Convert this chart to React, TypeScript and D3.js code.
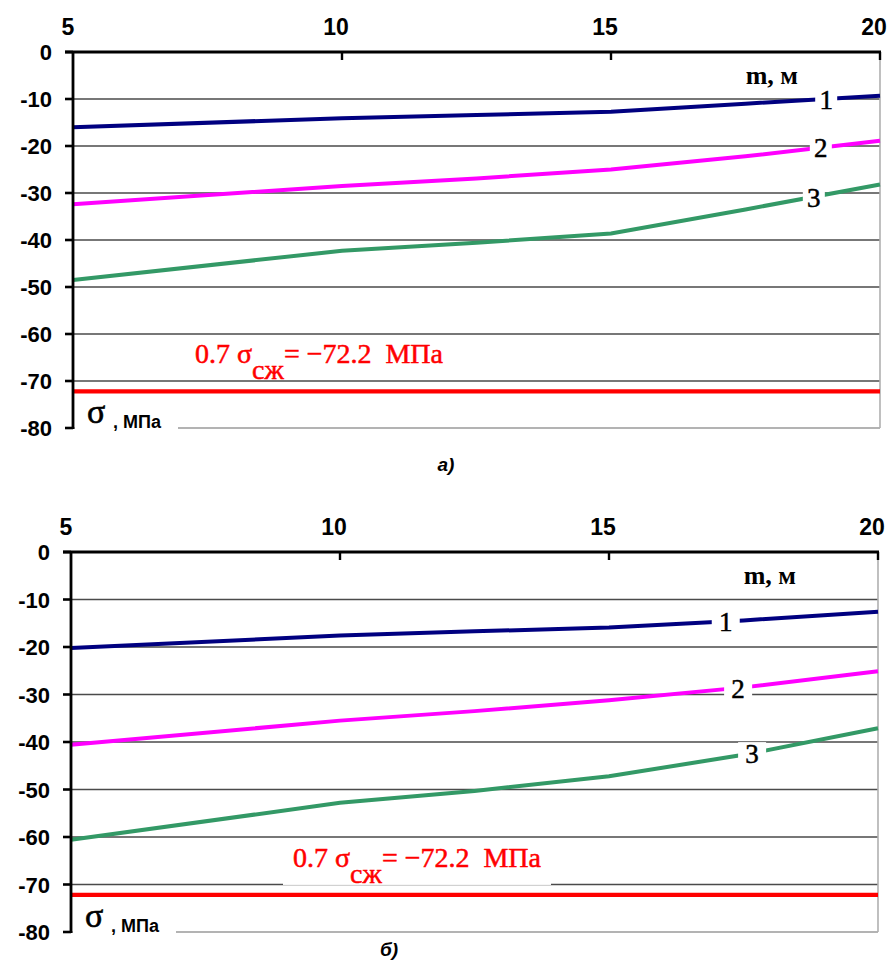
import React from "react";
import * as d3 from "d3";

// m, м values where the curves were read
const mValues = [5, 10, 12.5, 15, 17.5, 20];

// panel a)
const aCurve1 = [-16.0, -14.1, -13.4, -12.7, -11.0, -9.3];
const aCurve2 = [-32.4, -28.5, -26.9, -25.0, -22.2, -18.9];
const aCurve3 = [-48.5, -42.3, -40.6, -38.6, -33.5, -28.2];

// panel б)
const bCurve1 = [-20.2, -17.6, -16.7, -15.9, -14.4, -12.6];
const bCurve2 = [-40.6, -35.5, -33.5, -31.2, -28.5, -25.1];
const bCurve3 = [-60.6, -52.8, -50.3, -47.2, -42.7, -37.1];

const xTicks = [5, 10, 15, 20];
const yTicks = [0, -10, -20, -30, -40, -50, -60, -70, -80];
const curveNames = ["1", "2", "3"];
const curveColors = ["#000080", "#ff00ff", "#339966"];
const limit = -72.2;

const sans = "'Liberation Sans', Arial, sans-serif";
const serif = "'Liberation Serif', 'Times New Roman', serif";

type PanelProps = {
  curves: number[][];
  top: number;
  bottom: number;
  left: number;
  right: number;
  labelAt: number[];
  labelW: number;
  redX: number;
  redBox: boolean;
  caption: string;
  captionX: number;
  captionY: number;
};

function Panel(p: PanelProps) {
  const x = d3.scaleLinear().domain([5, 20]).range([p.left, p.right]);
  const y = d3.scaleLinear().domain([0, -80]).range([p.top, p.bottom]);
  const line = d3
    .line<number>()
    .x((d, i) => x(mValues[i]))
    .y((d) => y(d));

  const redY = y(limit);

  return (
    <g>
      {/* grid */}
      {yTicks.slice(1).map((t) => (
        <line
          key={t}
          x1={p.left}
          x2={p.right}
          y1={y(t)}
          y2={y(t)}
          stroke={t === -80 ? "#9a9a9a" : "#4a4a4a"}
          strokeWidth={1.3}
        />
      ))}
      <line x1={p.right} x2={p.right} y1={p.top} y2={p.bottom} stroke="#b0b0b0" strokeWidth={1.6} />

      {/* red limit text */}
      {p.redBox && (
        <rect x={p.redX - 10} y={redY - 50} width={268} height={40} fill="#fff" />
      )}
      <text
        x={p.redX}
        y={redY - 28}
        fill="#ff0000"
        stroke="#ff0000"
        strokeWidth={0.5}
        fontFamily={serif}
        fontSize={28}
        style={{ whiteSpace: "pre" }}
      >
        0.7 σ
        <tspan dy={16}>сж</tspan>
        <tspan dy={-16}>{"= −72.2\u00a0\u00a0МПа"}</tspan>
      </text>

      {/* curves */}
      {p.curves.map((c, i) => (
        <path key={i} d={line(c) || ""} fill="none" stroke={curveColors[i]} strokeWidth={4} />
      ))}
      <line x1={p.left} x2={p.right} y1={redY} y2={redY} stroke="#ff0000" strokeWidth={4.2} />

      {/* curve labels */}
      {p.curves.map((c, i) => {
        const m = p.labelAt[i];
        const v = d3.scaleLinear().domain(mValues).range(c)(m);
        return (
          <g key={"l" + i}>
            <rect x={x(m) - p.labelW / 2} y={y(v) - 11} width={p.labelW} height={22} fill="#fff" />
            <text
              x={x(m)}
              y={y(v)}
              dy="0.36em"
              textAnchor="middle"
              fontFamily={serif}
              fontSize={27}
              stroke="#000"
              strokeWidth={0.5}
              fill="#000"
            >
              {curveNames[i]}
            </text>
          </g>
        );
      })}

      {/* axes */}
      <line x1={p.left - 8} x2={p.right + 1} y1={p.top} y2={p.top} stroke="#000" strokeWidth={2.8} />
      <line x1={p.left} x2={p.left} y1={p.top} y2={p.bottom + 1} stroke="#000" strokeWidth={2.8} />
      {xTicks.slice(1).map((t) => (
        <g key={t}>
          <line x1={x(t)} x2={x(t)} y1={p.top} y2={p.top + 8} stroke="#000" strokeWidth={2.4} />
          <text
            x={x(t) - 6}
            y={p.top - 17}
            textAnchor="middle"
            fontFamily={sans}
            fontWeight="bold"
            fontSize={23}
          >
            {t}
          </text>
        </g>
      ))}
      <text x={x(5) - 5} y={p.top - 17} textAnchor="middle" fontFamily={sans} fontWeight="bold" fontSize={23}>
        5
      </text>
      {yTicks.map((t) => (
        <g key={t}>
          <line x1={p.left - 8} x2={p.left} y1={y(t)} y2={y(t)} stroke="#000" strokeWidth={2.6} />
          <text
            x={p.left - 21}
            y={y(t)}
            dy="0.38em"
            textAnchor="end"
            fontFamily={sans}
            fontWeight="bold"
            fontSize={22}
          >
            {t}
          </text>
        </g>
      ))}

      {/* axis titles */}
      <text x={p.right - 82} y={p.top + 32} textAnchor="end" fontFamily={serif} fontWeight="bold" fontSize={26}>
        m, м
      </text>
      <rect x={p.left + 2} y={p.bottom - 24} width={103} height={26} fill="#fff" />
      <text x={p.left + 14} y={p.bottom - 5} fontFamily={serif} fontSize={34} stroke="#000" strokeWidth={0.6}>
        σ
      </text>
      <text x={p.left + 40} y={p.bottom} fontFamily={sans} fontWeight="bold" fontSize={18}>
        , МПа
      </text>

      <text
        x={p.captionX}
        y={p.captionY}
        textAnchor="middle"
        fontFamily={sans}
        fontWeight="bold"
        fontStyle="italic"
        fontSize={19}
      >
        {p.caption}
      </text>
    </g>
  );
}

export default function App() {
  return (
    <svg
      width={892}
      height={969}
      style={{ position: "absolute", left: 0, top: 0, background: "#fff" }}
    >
      <Panel
        curves={[aCurve1, aCurve2, aCurve3]}
        top={52}
        bottom={428}
        left={73}
        right={880}
        labelAt={[19.0, 18.9, 18.77]}
        labelW={22}
        redX={195}
        redBox={false}
        caption="а)"
        captionX={446}
        captionY={471}
      />
      <Panel
        curves={[bCurve1, bCurve2, bCurve3]}
        top={552}
        bottom={932}
        left={71}
        right={878}
        labelAt={[17.17, 17.4, 17.66]}
        labelW={28}
        redX={293}
        redBox={true}
        caption="б)"
        captionX={389}
        captionY={956}
      />
    </svg>
  );
}
